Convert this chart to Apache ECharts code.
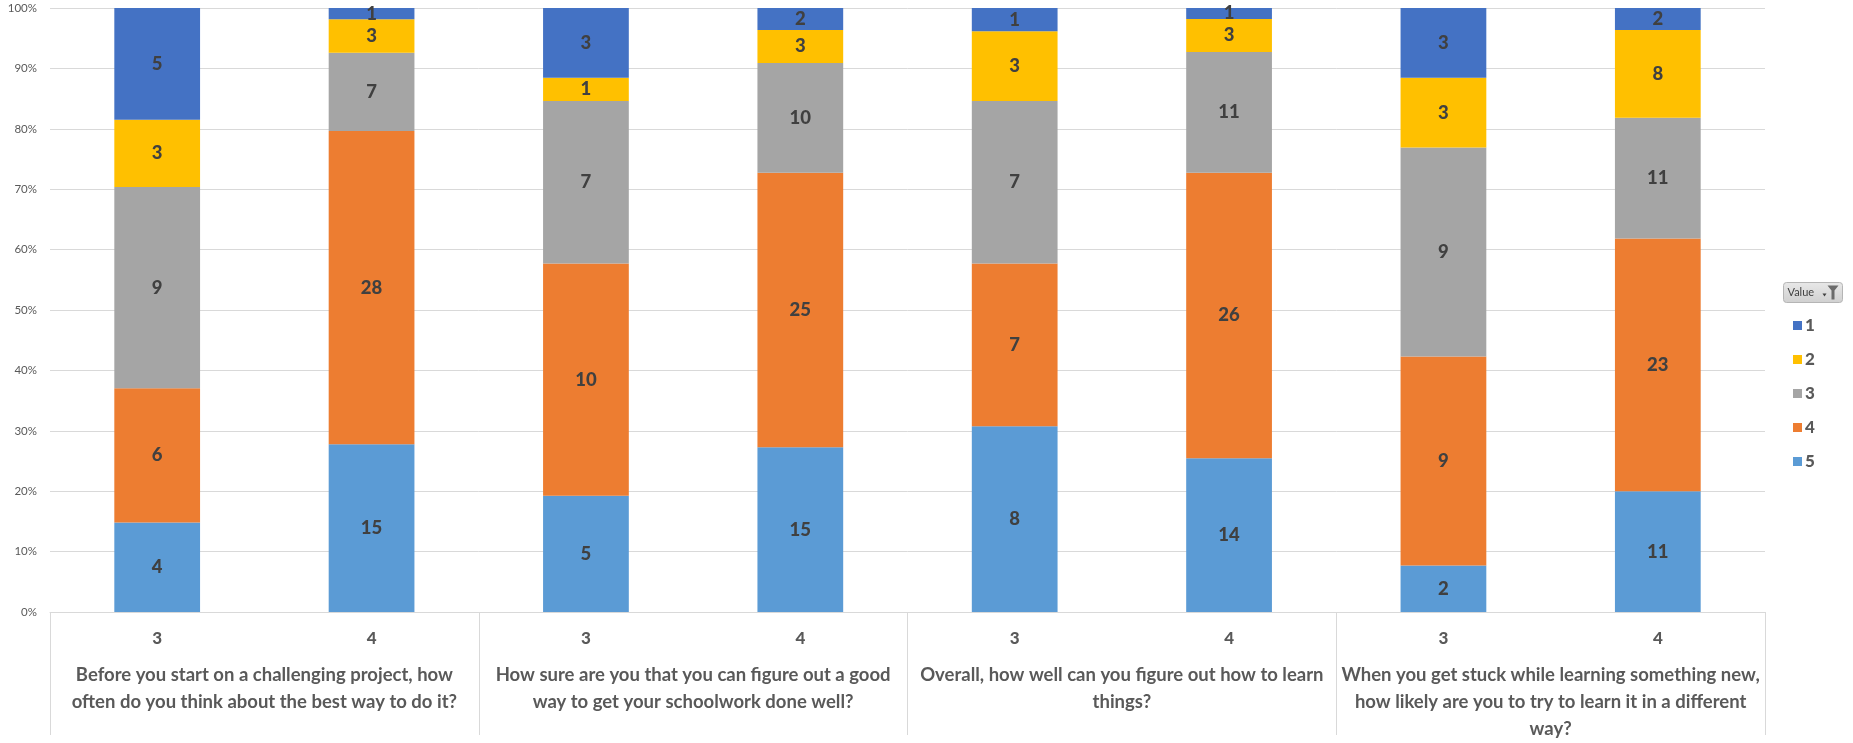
<!DOCTYPE html>
<html>
<head>
<meta charset="utf-8">
<script src="https://cdn.jsdelivr.net/npm/echarts@6/dist/echarts.min.js"></script>
<style>
html,body{margin:0;padding:0;background:#fff;}
#chart{width:1853px;height:743px;}
</style>
</head>
<body>
<div id="chart"></div>
<script>
// Sub-categories (rating given by respondent group) for each bar
const barLabels = ['3', '4', '3', '4', '3', '4', '3', '4'];
// Question groups (each spans two bars)
const questions = [
  'Before you start on a challenging project, how\noften do you think about the best way to do it?',
  'How sure are you that you can figure out a good\nway to get your schoolwork done well?',
  'Overall, how well can you figure out how to learn\nthings?',
  'When you get stuck while learning something new,\nhow likely are you to try to learn it in a different\nway?'
];
// Counts per answer value (series), one per bar
const value1 = [5, 1, 3, 2, 1, 1, 3, 2];
const value2 = [3, 3, 1, 3, 3, 3, 3, 8];
const value3 = [9, 7, 7, 10, 7, 11, 9, 11];
const value4 = [6, 28, 10, 25, 7, 26, 9, 23];
const value5 = [4, 15, 5, 15, 8, 14, 2, 11];
const seriesNames = ['1', '2', '3', '4', '5'];
const seriesColors = ['#4472C4', '#FFC000', '#A5A5A5', '#ED7D31', '#5B9BD5'];
const yTicks = [0, 10, 20, 30, 40, 50, 60, 70, 80, 90, 100];

const countsBySeries = [value1, value2, value3, value4, value5];
const totals = barLabels.map((_, i) => countsBySeries.reduce((s, arr) => s + arr[i], 0));

const FONT = 'Lato';
const TXT = '#595959';

// stack from bottom: 5,4,3,2,1
const order = [4, 3, 2, 1, 0];
const series = order.map(k => ({
  name: seriesNames[k],
  type: 'bar',
  stack: 'total',
  barWidth: '40%',
  xAxisIndex: 0,
  itemStyle: { color: seriesColors[k] },
  emphasis: { disabled: true },
  label: {
    show: true,
    position: 'inside',
    fontFamily: FONT,
    fontWeight: 900,
    fontSize: 18.5,
    color: '#404040',
    formatter: p => String(countsBySeries[k][p.dataIndex])
  },
  data: countsBySeries[k].map((c, i) => c / totals[i] * 100)
}));

const chart = echarts.init(document.getElementById('chart'), null, { renderer: 'canvas' });
chart.setOption({
  animation: false,
  backgroundColor: '#ffffff',
  grid: { left: 50, right: 88, top: 8, bottom: 123, containLabel: false },
  legend: {
    orient: 'vertical',
    left: 1788,
    top: 312,
    data: seriesNames,
    icon: 'rect',
    itemWidth: 9,
    itemHeight: 9,
    itemGap: 17,
    selectedMode: false,
    textStyle: { fontFamily: FONT, fontSize: 17, fontWeight: 900, color: TXT, lineHeight: 15, padding: [0, 0, 0, -2] }
  },
  xAxis: [
    {
      type: 'category',
      position: 'bottom',
      data: barLabels,
      axisLine: { show: false },
      axisTick: { show: false },
      axisLabel: { interval: 0, margin: 18, fontFamily: FONT, fontWeight: 900, fontSize: 17, color: TXT }
    },
    {
      type: 'category',
      position: 'bottom',
      data: questions,
      boundaryGap: true,
      axisLine: { show: true, lineStyle: { color: '#d9d9d9', width: 1 } },
      axisTick: { show: true, interval: 0, length: 123, lineStyle: { color: '#d9d9d9', width: 1 } },
      axisLabel: { interval: 0, margin: 50, fontFamily: FONT, fontWeight: 'bold', fontSize: 18.5, lineHeight: 27, color: TXT, align: 'center' }
    }
  ],
  yAxis: {
    type: 'value',
    min: yTicks[0],
    max: yTicks[yTicks.length - 1],
    interval: 10,
    axisLine: { show: false },
    axisTick: { show: false },
    splitLine: { lineStyle: { color: '#d9d9d9', width: 1 } },
    axisLabel: { margin: 13, fontFamily: FONT, fontSize: 11.5, color: TXT, formatter: v => v + '%' }
  },
  series: series,
  graphic: [
    {
      type: 'group',
      left: 1783,
      top: 282,
      children: [
        {
          type: 'rect',
          shape: { x: 0, y: 0, width: 59, height: 20, r: 3 },
          style: {
            fill: new echarts.graphic.LinearGradient(0, 0, 0, 1, [
              { offset: 0, color: '#e8e8e8' }, { offset: 1, color: '#d0d0d0' }
            ]),
            stroke: '#b5b5b5', lineWidth: 1
          }
        },
        {
          type: 'text',
          x: 4, y: 4,
          style: { text: 'Value', fontFamily: FONT, fontSize: 11, fill: '#404040' }
        },
        {
          type: 'polygon',
          shape: { points: [[39, 11], [43, 11], [41, 14]] },
          style: { fill: '#404040' }
        },
        {
          type: 'polygon',
          shape: { points: [[44, 3], [55, 3], [51, 8], [51, 17], [48, 17], [48, 8]] },
          style: { fill: '#6b6b6b' }
        }
      ]
    }
  ]
});
</script>
</body>
</html>
